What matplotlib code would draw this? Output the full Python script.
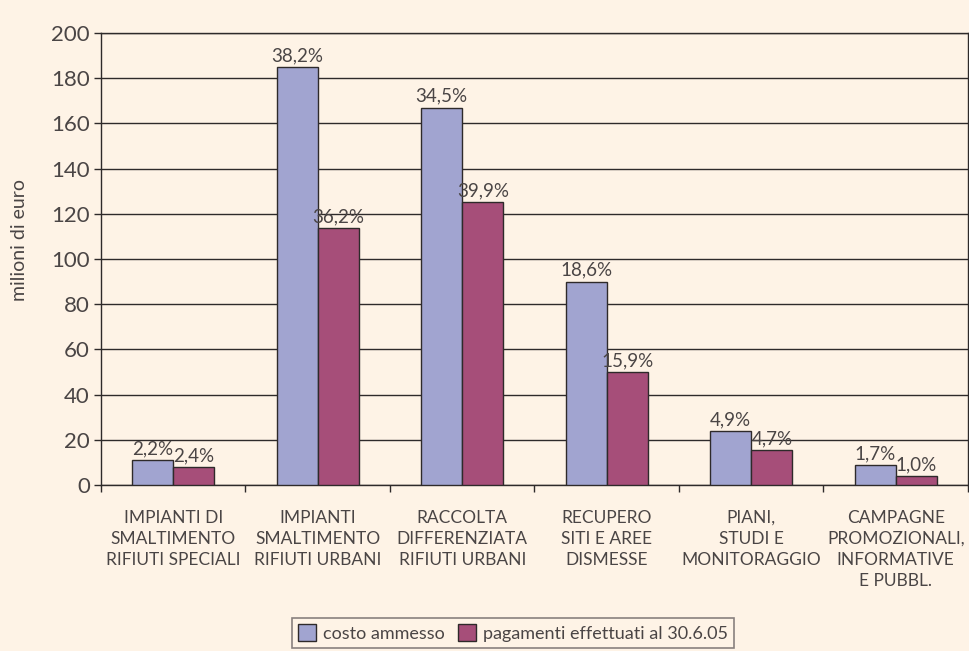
import matplotlib
matplotlib.use("Agg")
import matplotlib.pyplot as plt
import numpy as np
from matplotlib.patches import Patch

categories = ["IMPIANTI DI\nSMALTIMENTO\nRIFIUTI SPECIALI",
              "IMPIANTI\nSMALTIMENTO\nRIFIUTI URBANI",
              "RACCOLTA\nDIFFERENZIATA\nRIFIUTI URBANI",
              "RECUPERO\nSITI E AREE\nDISMESSE",
              "PIANI,\nSTUDI E\nMONITORAGGIO",
              "CAMPAGNE\nPROMOZIONALI,\nINFORMATIVE\nE PUBBL."]
costo = [11, 185, 167, 90, 24, 8.8]
pagamenti = [8, 113.5, 125, 50, 15.5, 4]
costo_pct = ["2,2%", "38,2%", "34,5%", "18,6%", "4,9%", "1,7%"]
pag_pct = ["2,4%", "36,2%", "39,9%", "15,9%", "4,7%", "1,0%"]
series_names = ["costo ammesso", "pagamenti effettuati al 30.6.05"]
yticks = list(range(0, 201, 20))

bg = "#FEF3E6"
c_blue = "#A1A4D0"
c_mag = "#A64E79"
edge = "#2E2A2A"
txt = "#4A4545"

plt.rcParams['font.family'] = ['Lato', 'DejaVu Sans']

fig = plt.figure(figsize=(9.7, 6.51), dpi=100, facecolor=bg)
ax = fig.add_axes([101/970, 1-485/651, (968-101)/970, (485-33)/651])
ax.set_facecolor(bg)

x = np.arange(len(categories))
w = 0.285
ax.bar(x - w/2, costo, w, color=c_blue, edgecolor=edge, linewidth=1.0, zorder=3)
ax.bar(x + w/2, pagamenti, w, color=c_mag, edgecolor=edge, linewidth=1.0, zorder=3)

for xi, v, s in zip(x - w/2, costo, costo_pct):
    ax.annotate(s, (xi, v), xytext=(0, 2), textcoords="offset points",
                ha="center", va="bottom", fontsize=13.5, color=txt, zorder=4)
for xi, v, s in zip(x + w/2, pagamenti, pag_pct):
    ax.annotate(s, (xi, v), xytext=(0, 2), textcoords="offset points",
                ha="center", va="bottom", fontsize=13.5, color=txt, zorder=4)

ax.set_xlim(-0.5, len(categories) - 0.5)
ax.set_ylim(0, 200)
ax.set_yticks(yticks)
ax.set_yticklabels([str(t) for t in yticks], fontsize=16, color=txt)
ax.yaxis.grid(True, color=edge, linewidth=1.0, zorder=0)
ax.set_axisbelow(True)

ax.set_xticks(np.arange(-0.5, len(categories), 1.0))
ax.set_xticklabels([])
ax.set_xticks(x, minor=True)
ax.set_xticklabels(categories, minor=True, fontsize=12.5, color=txt, linespacing=1.38, va="top")
ax.tick_params(axis="x", which="major", length=5, width=1, color=edge, direction="out")
ax.tick_params(axis="x", which="minor", length=0, pad=18)
ax.tick_params(axis="y", length=5, width=1, color=edge, direction="out", pad=3)

for sp in ax.spines.values():
    sp.set_color(edge)
    sp.set_linewidth(1.0)

fig.text(20/970, 1-240/651, "milioni di euro", rotation=90, ha="center", va="center",
         fontsize=14, color=txt)

handles = [Patch(facecolor=c_blue, edgecolor=edge, linewidth=1.0),
           Patch(facecolor=c_mag, edgecolor=edge, linewidth=1.0)]
leg = fig.legend(handles, series_names, loc="center", bbox_to_anchor=(513/970, 1-633/651),
                 ncol=2, frameon=True, fancybox=False, fontsize=13,
                 handlelength=1.0, handleheight=1.0, handletextpad=0.4, columnspacing=0.7,
                 borderpad=0.35, labelcolor=txt)
leg.get_frame().set_edgecolor("#6B6464")
leg.get_frame().set_facecolor(bg)
leg.get_frame().set_linewidth(1.2)

fig.savefig("out.png", dpi=100, facecolor=bg)
